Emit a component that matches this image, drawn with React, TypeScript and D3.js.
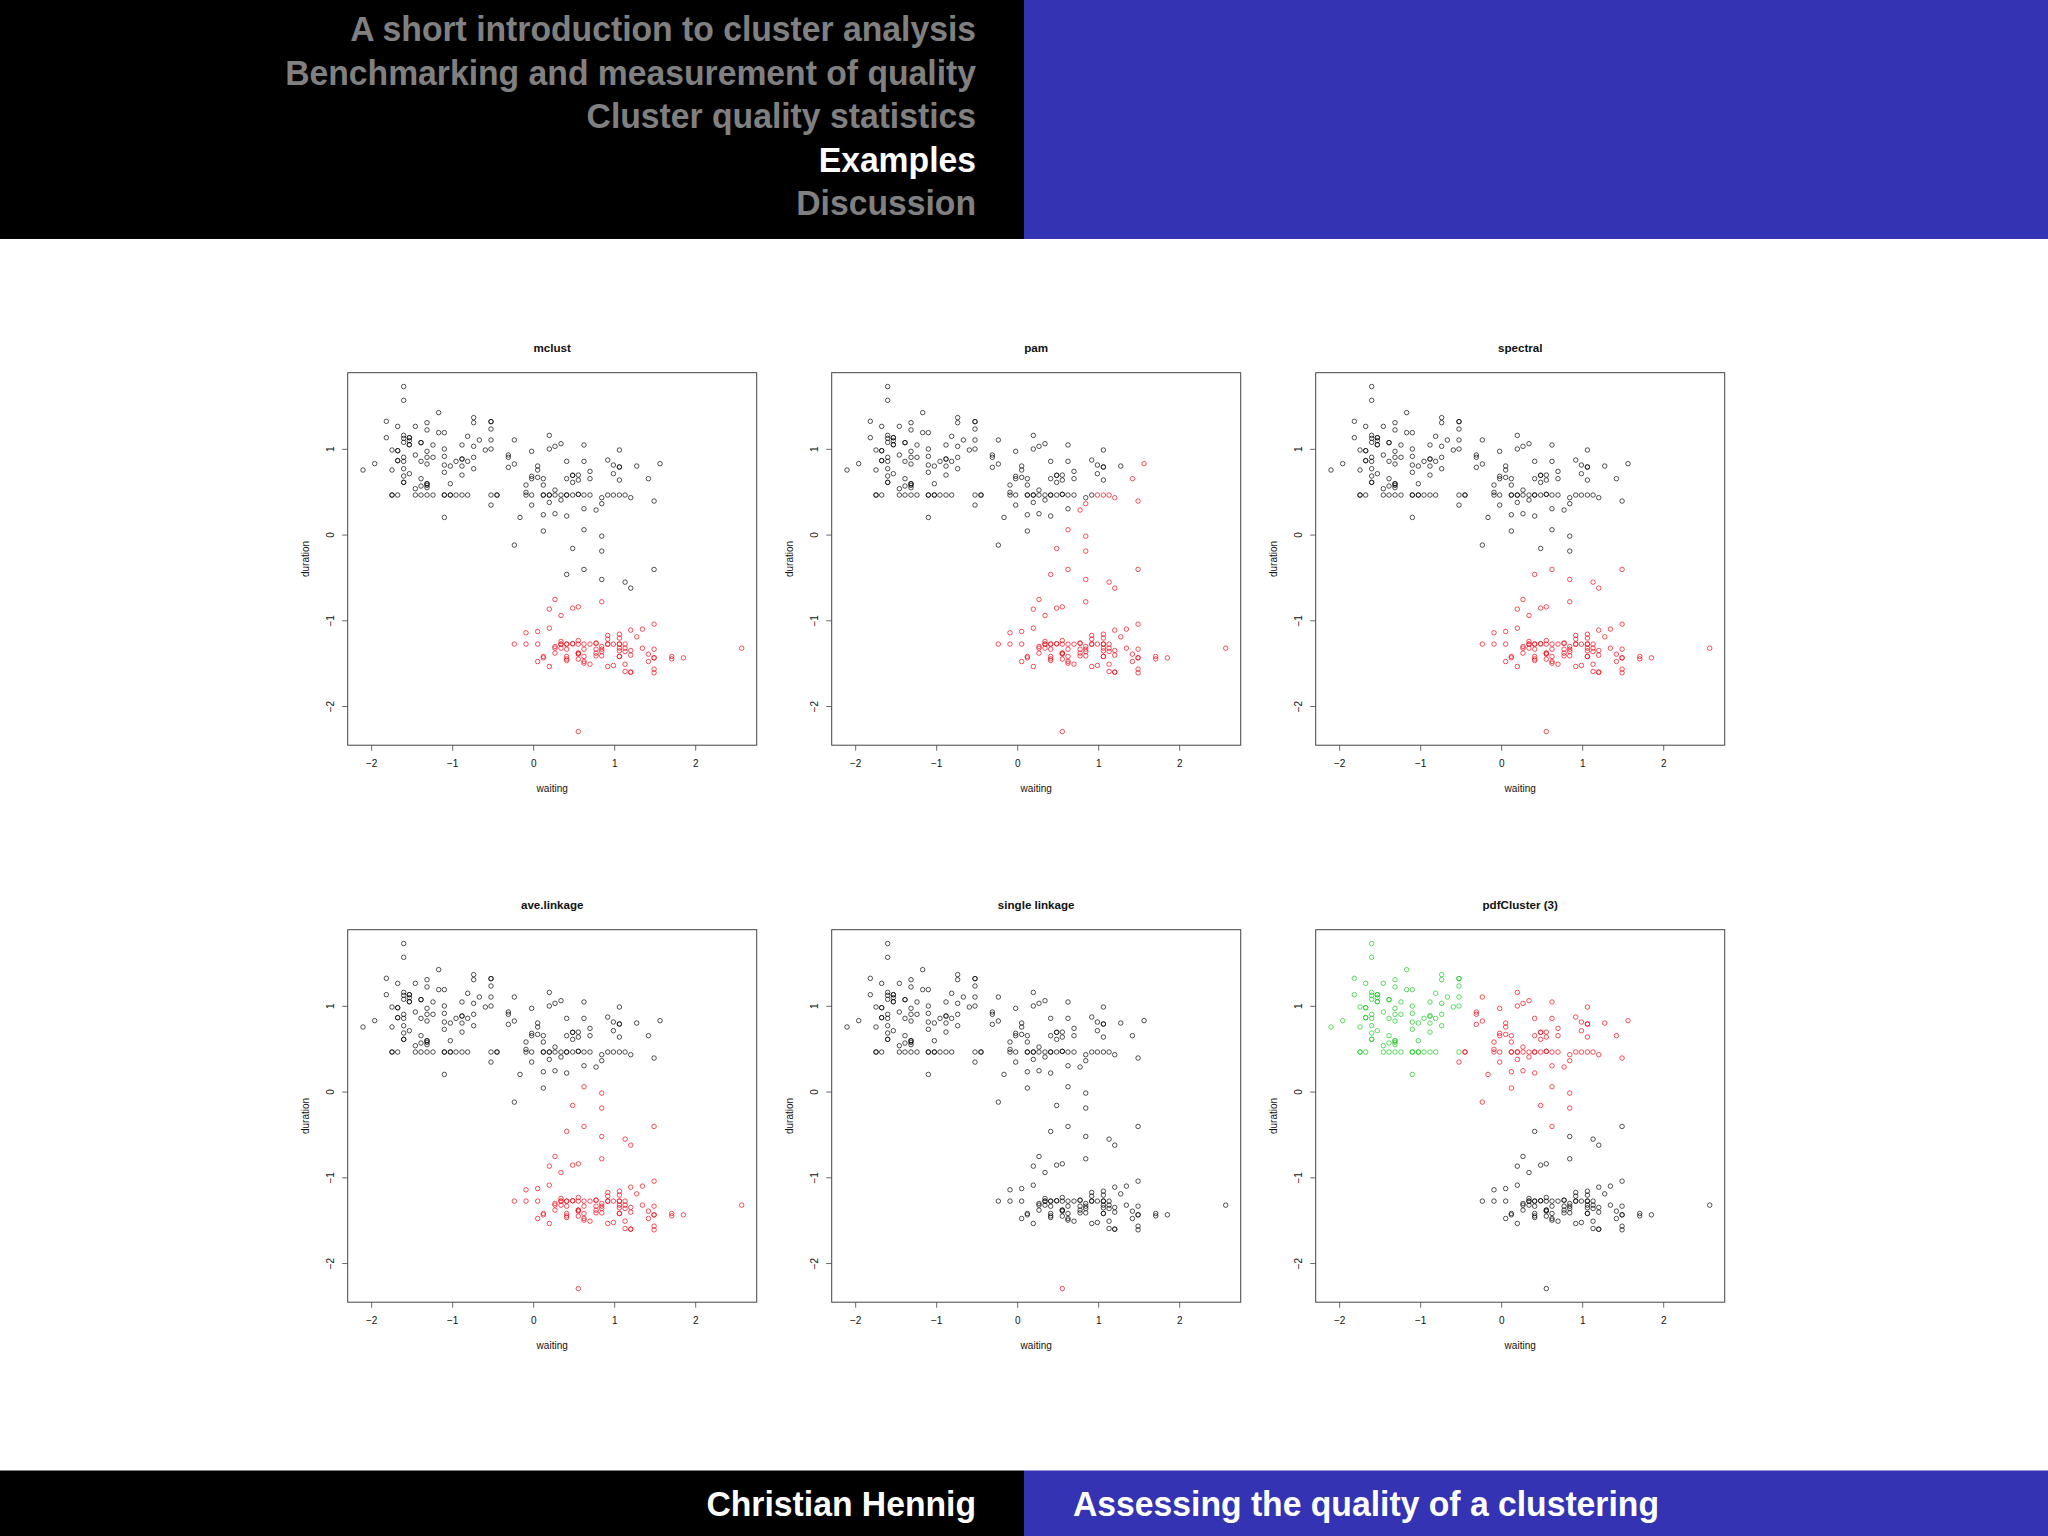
import React from 'react';
import * as d3 from 'd3';

type Pt = [number, number];

// standardised waiting / duration; repeats are overplotted points
const upperLeft: Pt[] = [
  [-2.107, 0.759], [-1.963, 0.833], [-1.819, 1.327], [-1.819, 1.136], [-1.749, 0.992], [-1.749, 0.759],
  [-1.749, 0.467], [-1.749, 0.467], [-1.679, 0.467], [-1.679, 1.268], [-1.679, 0.984], [-1.679, 0.984],
  [-1.679, 0.868], [-1.679, 0.868], [-1.605, 1.732], [-1.605, 1.572], [-1.605, 1.163], [-1.605, 1.128],
  [-1.605, 1.082], [-1.605, 0.907], [-1.605, 0.86], [-1.605, 0.774], [-1.605, 0.689], [-1.605, 0.615],
  [-1.605, 0.615], [-1.535, 1.136], [-1.535, 1.136], [-1.535, 1.101], [-1.535, 1.054], [-1.535, 1.054],
  [-1.535, 0.716], [-1.461, 1.268], [-1.461, 0.934], [-1.461, 0.541], [-1.461, 0.467], [-1.391, 1.078],
  [-1.391, 1.078], [-1.391, 0.86], [-1.391, 0.658], [-1.391, 0.572], [-1.391, 0.467], [-1.317, 1.311],
  [-1.317, 1.226], [-1.317, 0.977], [-1.317, 0.907], [-1.317, 0.829], [-1.317, 0.599], [-1.317, 0.599],
  [-1.317, 0.58], [-1.317, 0.553], [-1.317, 0.467], [-1.243, 1.051], [-1.243, 0.907], [-1.243, 0.467],
  [-1.173, 1.428], [-1.173, 1.195], [-1.103, 1.195], [-1.103, 1.004], [-1.103, 0.918], [-1.103, 0.817],
  [-1.103, 0.732], [-1.103, 0.467], [-1.103, 0.467], [-1.103, 0.206], [-1.029, 0.805], [-1.029, 0.599],
  [-1.029, 0.467], [-1.029, 0.467], [-0.959, 0.86], [-0.959, 0.467], [-0.885, 1.051], [-0.885, 0.887],
  [-0.885, 0.887], [-0.885, 0.805], [-0.885, 0.7], [-0.885, 0.467], [-0.815, 1.152], [-0.815, 0.86],
  [-0.815, 0.467], [-0.741, 1.37], [-0.741, 1.311], [-0.741, 1.035], [-0.741, 0.907], [-0.741, 0.774],
  [-0.671, 1.109], [-0.597, 0.992], [-0.527, 1.323], [-0.527, 1.323], [-0.527, 1.237], [-0.527, 1.109],
  [-0.527, 1.004], [-0.527, 0.467],
];

const upperMiddle: Pt[] = [
  [-0.527, 0.35], [-0.453, 0.467], [-0.453, 0.467], [-0.313, 0.934], [-0.313, 0.907], [-0.313, 0.79],
  [-0.239, 1.109], [-0.239, 0.829], [-0.239, -0.117], [-0.169, 0.206], [-0.095, 0.584], [-0.095, 0.498],
  [-0.095, 0.467], [-0.025, 0.977], [-0.025, 0.685], [-0.025, 0.658], [-0.025, 0.467], [-0.025, 0.35],
  [0.049, 0.805], [0.049, 0.759], [0.049, 0.673], [0.119, 0.658], [0.119, 0.584], [0.119, 0.467],
  [0.119, 0.467], [0.119, 0.237], [0.119, 0.047], [0.193, 1.163], [0.193, 1.004], [0.193, 0.467],
  [0.193, 0.467], [0.193, 0.381], [0.263, 1.035], [0.263, 0.525], [0.263, 0.467], [0.263, 0.249],
  [0.337, 1.066], [0.337, 0.467], [0.337, 0.409], [0.407, 0.86], [0.407, 0.658], [0.407, 0.467],
  [0.407, 0.467], [0.407, 0.222], [0.481, 0.697], [0.481, 0.697], [0.481, 0.615], [0.481, 0.467],
  [0.551, 0.7], [0.551, 0.642], [0.551, 0.475], [0.551, 0.475], [0.621, 1.051], [0.621, 0.86],
  [0.621, 0.467], [0.621, 0.307], [0.695, 0.743], [0.695, 0.658], [0.695, 0.467], [0.84, 0.436],
  [0.914, 0.875], [0.914, 0.467], [0.984, 0.817], [0.984, 0.716], [1.058, 0.992], [1.058, 0.794],
  [1.058, 0.794], [1.058, 0.642], [1.272, 0.805],
];

const upperRight: Pt[] = [
  [1.56, 0.833], [1.416, 0.658], [1.486, 0.397], [0.984, 0.467], [1.058, 0.467], [1.128, 0.467],
  [1.198, 0.436], [0.84, 0.366], [0.77, 0.292],
];

const centre: Pt[] = [[0.621, 0.062], [0.84, -0.012], [0.481, -0.156], [0.84, -0.187]];

const bridgeTop: Pt[] = [[0.621, -0.401]];

const bridge: Pt[] = [[0.407, -0.459], [0.84, -0.518], [1.128, -0.549], [1.198, -0.619], [1.486, -0.401]];

const lower: Pt[] = [
  [0.263, -0.751], [0.193, -0.864], [0.481, -0.852], [0.551, -0.837], [0.84, -0.778], [0.337, -0.938],
  [0.193, -1.086], [-0.095, -1.14], [0.049, -1.125], [1.486, -1.039], [1.342, -1.097], [1.198, -1.109],
  [1.272, -1.187], [1.058, -1.156], [1.058, -1.202], [0.914, -1.171], [0.914, -1.214], [-0.239, -1.272],
  [-0.095, -1.272], [0.049, -1.272], [0.263, -1.3], [0.263, -1.319], [0.263, -1.377], [0.337, -1.241],
  [0.337, -1.272], [0.337, -1.272], [0.337, -1.319], [0.407, -1.272], [0.407, -1.272], [0.407, -1.331],
  [0.407, -1.416], [0.407, -1.444], [0.407, -1.463], [0.481, -1.268], [0.481, -1.268], [0.551, -1.23],
  [0.551, -1.272], [0.551, -1.377], [0.551, -1.377], [0.551, -1.389], [0.551, -1.447], [0.621, -1.272],
  [0.621, -1.331], [0.621, -1.416], [0.621, -1.475], [0.621, -1.494], [0.695, -1.272], [0.695, -1.506],
  [0.77, -1.261], [0.77, -1.261], [0.77, -1.331], [0.77, -1.377], [0.77, -1.409], [0.84, -1.3],
  [0.84, -1.331], [0.84, -1.358], [0.84, -1.409], [0.914, -1.272], [0.914, -1.272], [0.914, -1.533],
  [0.984, -1.272], [0.984, -1.521], [1.058, -1.272], [1.058, -1.272], [1.058, -1.319], [1.058, -1.35],
  [1.058, -1.416], [1.058, -1.416], [1.128, -1.272], [1.128, -1.319], [1.128, -1.358], [1.128, -1.506],
  [1.128, -1.591], [1.198, -1.346], [1.198, -1.401], [1.198, -1.599], [1.198, -1.599], [1.342, -1.319],
  [1.416, -1.389], [1.416, -1.475], [1.486, -1.331], [1.486, -1.432], [1.486, -1.432], [1.486, -1.564],
  [1.486, -1.607], [1.704, -1.416], [1.704, -1.444], [1.848, -1.432], [2.568, -1.319], [0.119, -1.416],
  [0.119, -1.432], [0.049, -1.475], [0.193, -1.533],
];

const outlier: Pt[] = [[0.551, -2.292]];

const pointGroups = [upperLeft, upperMiddle, upperRight, centre, bridgeTop, bridge, lower, outlier];

// cluster number of each group above, per panel (1 black, 2 red, 3 green as in R)
const mclustLabels = [1, 1, 1, 1, 1, 1, 2, 2];
const pamLabels = [1, 1, 2, 2, 2, 2, 2, 2];
const spectralLabels = [1, 1, 1, 1, 2, 2, 2, 2];
const aveLinkageLabels = [1, 1, 1, 2, 2, 2, 2, 2];
const singleLinkageLabels = [1, 1, 1, 1, 1, 1, 1, 2];
const pdfClusterLabels = [3, 2, 2, 2, 2, 1, 1, 1];

const panelTitles = ['mclust', 'pam', 'spectral', 'ave.linkage', 'single linkage', 'pdfCluster (3)'];
const panelLabels = [mclustLabels, pamLabels, spectralLabels, aveLinkageLabels, singleLinkageLabels, pdfClusterLabels];

const xTicks = [-2, -1, 0, 1, 2];
const yTicks = [-2, -1, 0, 1];
const xDomain = [-2.296, 2.753];
const yDomain = [-2.451, 1.894];

const outlineItems = [
  'A short introduction to cluster analysis',
  'Benchmarking and measurement of quality',
  'Cluster quality statistics',
  'Examples',
  'Discussion',
];
const activeItem = 'Examples';

const BLUE = '#3333b3';
const FONT = '"Liberation Sans", Arial, sans-serif';
const clusterColor = d3.scaleOrdinal<number, string>().domain([1, 2, 3]).range(['#000000', '#f00010', '#10c818']);

const PLOT_W = 409;
const PLOT_H = 372.5;
const x = d3.scaleLinear().domain(xDomain).range([0, PLOT_W]);
const y = d3.scaleLinear().domain(yDomain).range([PLOT_H, 0]);
const fmt = (v: number) => String(v).replace('-', '\u2212');

const Panel: React.FC<{ title: string; labels: number[]; left: number; top: number }> = ({ title, labels, left, top }) => (
  <g transform={`translate(${left},${top})`} fontFamily={FONT} fill="#111">
    <text x={PLOT_W / 2} y={-20.5} textAnchor="middle" fontWeight="bold" fontSize={11.6}>{title}</text>
    <rect width={PLOT_W} height={PLOT_H} fill="none" stroke="#444" strokeWidth={1} />
    {xTicks.map(t => (
      <g key={t} transform={`translate(${x(t)},${PLOT_H})`}>
        <line y2={5.5} stroke="#444" strokeWidth={0.8} />
        <text y={22} textAnchor="middle" fontSize={10}>{fmt(t)}</text>
      </g>
    ))}
    {yTicks.map(t => (
      <g key={t} transform={`translate(0,${y(t)})`}>
        <line x2={-5.5} stroke="#444" strokeWidth={0.8} />
        <text transform="translate(-14,0) rotate(-90)" textAnchor="middle" fontSize={10}>{fmt(t)}</text>
      </g>
    ))}
    <text x={PLOT_W / 2} y={PLOT_H + 46.5} textAnchor="middle" fontSize={10}>waiting</text>
    <text transform={`translate(-38.5,${PLOT_H / 2}) rotate(-90)`} textAnchor="middle" fontSize={10}>duration</text>
    {pointGroups.map((pts, g) =>
      pts.map((p, i) => (
        <circle key={`${g}-${i}`} cx={x(p[0])} cy={y(p[1])} r={2.25} fill="none"
          stroke={clusterColor(labels[g])} strokeOpacity={0.85} strokeWidth={0.8} />
      ))
    )}
  </g>
);

// the slide font is narrower than Liberation Sans Bold at the same height
const SlideText: React.FC<{ x: number; y: number; anchor: string; fill: string; children: string }> = ({ x: tx, y: ty, anchor, fill, children }) => (
  <text transform={`translate(${tx},${ty}) scale(0.963,1)`} textAnchor={anchor} fontFamily={FONT} fontWeight="bold"
    fontSize={35} fill={fill}>{children}</text>
);

const App: React.FC = () => (
  <svg width={2048} height={1536} viewBox="0 0 2048 1536"
    style={{ position: 'absolute', left: 0, top: 0, background: '#fff' }}>
    <rect width={1024} height={239} fill="#000" />
    <rect x={1024} width={1024} height={239} fill={BLUE} />
    {outlineItems.map((item, i) => (
      <SlideText key={item} x={976} y={41 + i * 43.5} anchor="end" fill={item === activeItem ? '#fff' : '#808080'}>{item}</SlideText>
    ))}
    {panelTitles.map((title, i) => (
      <Panel key={title} title={title} labels={panelLabels[i]}
        left={347.7 + (i % 3) * 484} top={372.7 + Math.floor(i / 3) * 557} />
    ))}
    <rect y={1470.5} width={1024} height={66} fill="#000" />
    <rect x={1024} y={1470.5} width={1024} height={66} fill={BLUE} />
    <SlideText x={976} y={1516} anchor="end" fill="#fff">Christian Hennig</SlideText>
    <SlideText x={1073} y={1516} anchor="start" fill="#fff">Assessing the quality of a clustering</SlideText>
  </svg>
);

export default App;
